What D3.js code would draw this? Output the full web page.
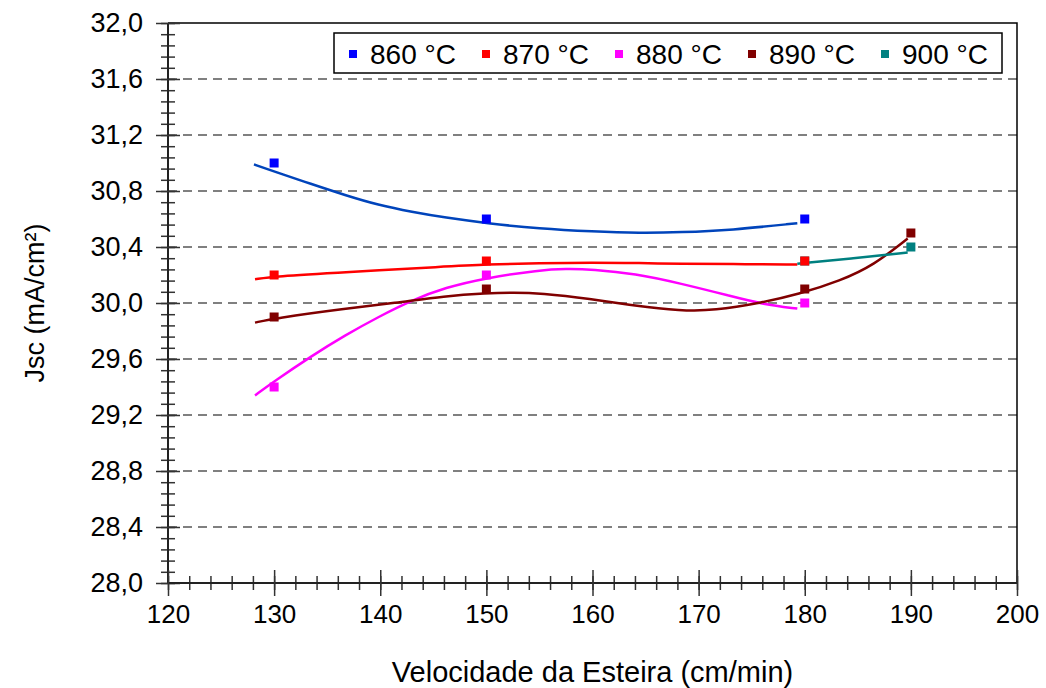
<!DOCTYPE html>
<html>
<head>
<meta charset="utf-8">
<script src="https://cdn.jsdelivr.net/npm/d3@7"></script>
<style>
  body { margin: 0; background: #fff; }
  svg { display: block; font-family: "Liberation Sans", Arial, sans-serif; }
</style>
</head>
<body>
<svg id="chart" width="1046" height="688"></svg>
<script>
// series labels and colours
let temps = ["860 °C", "870 °C", "880 °C", "890 °C", "900 °C"];
let markerColors = ["#0000ff", "#ff0000", "#ff00ff", "#800000", "#008080"];
let curveColors = ["#0044bb", "#ff0000", "#ff00ff", "#800000", "#008080"];

// measured points (speed, Jsc)
let jsc860 = [[130, 31.0], [150, 30.6], [180, 30.6]];
let jsc870 = [[130, 30.2], [150, 30.3], [180, 30.3]];
let jsc880 = [[130, 29.4], [150, 30.2], [180, 30.0]];
let jsc890 = [[130, 29.9], [150, 30.1], [180, 30.1], [190, 30.5]];
let jsc900 = [[180, 30.3], [190, 30.4]];

// trend curves
let fit860 = [[128.1, 30.99], [130, 30.94], [133.5, 30.85], [136.7, 30.77], [139.8, 30.70], [143, 30.65],
    [146.1, 30.61], [150, 30.57], [155, 30.53], [160, 30.51], [164.5, 30.50], [168.3, 30.505], [173, 30.52], [179.3, 30.57]];
let fit870 = [[128.2, 30.17], [130, 30.19], [136.7, 30.22], [146.1, 30.26], [150, 30.275], [155, 30.285],
    [160, 30.29], [164.5, 30.285], [168.3, 30.28], [173, 30.278], [179.3, 30.275]];
let fit880 = [[128.2, 29.34], [130, 29.44], [133.5, 29.62], [136.7, 29.77], [139.8, 29.90], [143, 30.02],
    [146.1, 30.11], [150, 30.18], [155, 30.235], [157.5, 30.245], [160, 30.24], [164, 30.21], [168.3, 30.14],
    [173, 30.05], [176.1, 29.99], [179.3, 29.96]];
let fit890 = [[128.2, 29.86], [130, 29.89], [136.7, 29.96], [141.4, 30.00], [146.1, 30.05], [150, 30.07],
    [152.6, 30.075], [155.1, 30.07], [159.8, 30.03], [164, 29.98], [168.3, 29.945], [171.4, 29.945],
    [176.1, 30.005], [179.3, 30.06], [183.4, 30.16], [186.5, 30.27], [189.7, 30.46]];
let fit900 = [[179.3, 30.28], [184.6, 30.32], [189.7, 30.36]];

let points = [jsc860, jsc870, jsc880, jsc890, jsc900];
let fits = [fit860, fit870, fit880, fit890, fit900];

let xTicks = [120, 130, 140, 150, 160, 170, 180, 190, 200];
let yTicks = [28.0, 28.4, 28.8, 29.2, 29.6, 30.0, 30.4, 30.8, 31.2, 31.6, 32.0];

let svg = d3.select("#chart");

let x = d3.scaleLinear().domain([120, 200]).range([168, 1017]);
let y = d3.scaleLinear().domain([28, 32]).range([583, 23]);

//? dashed grid
svg.append("g")
    .selectAll("line")
    .data(yTicks.slice(1, -1))
    .enter()
    .append("line")
    .attr("x1", x(120))
    .attr("x2", x(200))
    .attr("y1", d => y(d))
    .attr("y2", d => y(d))
    .attr("stroke", "#808080")
    .attr("stroke-width", 2)
    .attr("stroke-dasharray", "9,6");

//? frame top / right
svg.append("path")
    .attr("d", `M${x(120)},${y(32)}H${x(200)}V${y(28)}`)
    .attr("fill", "none")
    .attr("stroke", "#000")
    .attr("stroke-width", 1.5);

let comma = d => d3.format(".1f")(d).replace(".", ",");

//? y axis, ticks cross the line
let yMinor = d3.range(28, 32.001, 0.08);
let gyMinor = svg.append("g")
    .attr("transform", `translate(${x(120)},0)`)
    .call(d3.axisLeft(y).tickValues(yMinor).tickSize(7).tickFormat(""));
gyMinor.selectAll(".tick line").attr("x1", 7);
gyMinor.select(".domain").remove();

let gy = svg.append("g")
    .attr("transform", `translate(${x(120)},0)`)
    .call(d3.axisLeft(y).tickValues(yTicks).tickSize(12).tickPadding(13).tickFormat(comma));
gy.selectAll(".tick line").attr("x1", 12);
gy.selectAll("text").attr("font-size", 27).attr("font-family", "Liberation Sans, Arial, sans-serif").attr("fill", "#000");

//? x axis
let xMinor = d3.range(120, 200.001, 2);
let gxMinor = svg.append("g")
    .attr("transform", `translate(0,${y(28)})`)
    .call(d3.axisBottom(x).tickValues(xMinor).tickSize(7).tickFormat(""));
gxMinor.selectAll(".tick line").attr("y1", -7);
gxMinor.select(".domain").remove();

let gx = svg.append("g")
    .attr("transform", `translate(0,${y(28)})`)
    .call(d3.axisBottom(x).tickValues(xTicks).tickSize(13).tickPadding(9).tickFormat(d3.format("d")));
gx.selectAll(".tick line").attr("y1", -13);
gx.selectAll("text").attr("font-size", 26).attr("font-family", "Liberation Sans, Arial, sans-serif").attr("fill", "#000");

svg.selectAll(".domain").attr("stroke", "#222").attr("stroke-width", 2);
svg.selectAll(".tick line").attr("stroke", "#333").attr("stroke-width", 1.5);
gy.select(".domain").attr("d", `M0,${y(32)}V${y(28)}`);
gx.select(".domain").attr("d", `M${x(120)},0H${x(200)}`);

//? axis titles
svg.append("text")
    .attr("x", (x(120) + x(200)) / 2)
    .attr("y", 682)
    .attr("text-anchor", "middle")
    .attr("font-size", 29)
    .text("Velocidade da Esteira (cm/min)");

svg.append("text")
    .attr("transform", `translate(44,${(y(28) + y(32)) / 2}) rotate(-90)`)
    .attr("text-anchor", "middle")
    .attr("font-size", 27)
    .text("Jsc (mA/cm²)");

//? trend curves
let line = d3.line()
    .x(d => x(d[0]))
    .y(d => y(d[1]))
    .curve(d3.curveBasis);

svg.append("g")
    .selectAll("path")
    .data(fits)
    .enter()
    .append("path")
    .attr("d", line)
    .attr("fill", "none")
    .attr("stroke", (d, i) => curveColors[i])
    .attr("stroke-width", 2.5);

//? markers (900 first so 870 sits on top at 180)
let order = [4, 3, 2, 1, 0];
svg.append("g")
    .selectAll("g")
    .data(order)
    .enter()
    .append("g")
    .attr("fill", i => markerColors[i])
    .selectAll("rect")
    .data(i => points[i])
    .enter()
    .append("rect")
    .attr("x", d => x(d[0]) - 4.5)
    .attr("y", d => y(d[1]) - 4.5)
    .attr("width", 9)
    .attr("height", 9);

//? legend
let legend = svg.append("g");
legend.append("rect")
    .attr("x", 334)
    .attr("y", 33)
    .attr("width", 668)
    .attr("height", 40)
    .attr("fill", "#fff")
    .attr("stroke", "#000")
    .attr("stroke-width", 1.5);

let item = legend.selectAll("g.item")
    .data(temps)
    .enter()
    .append("g")
    .attr("class", "item")
    .attr("transform", (d, i) => `translate(${349 + i * 133},0)`);

item.append("rect")
    .attr("x", 0)
    .attr("y", 50)
    .attr("width", 8)
    .attr("height", 8)
    .attr("fill", (d, i) => markerColors[i]);

item.append("text")
    .attr("x", 21)
    .attr("y", 64)
    .attr("font-size", 28)
    .text(d => d);
</script>
</body>
</html>
